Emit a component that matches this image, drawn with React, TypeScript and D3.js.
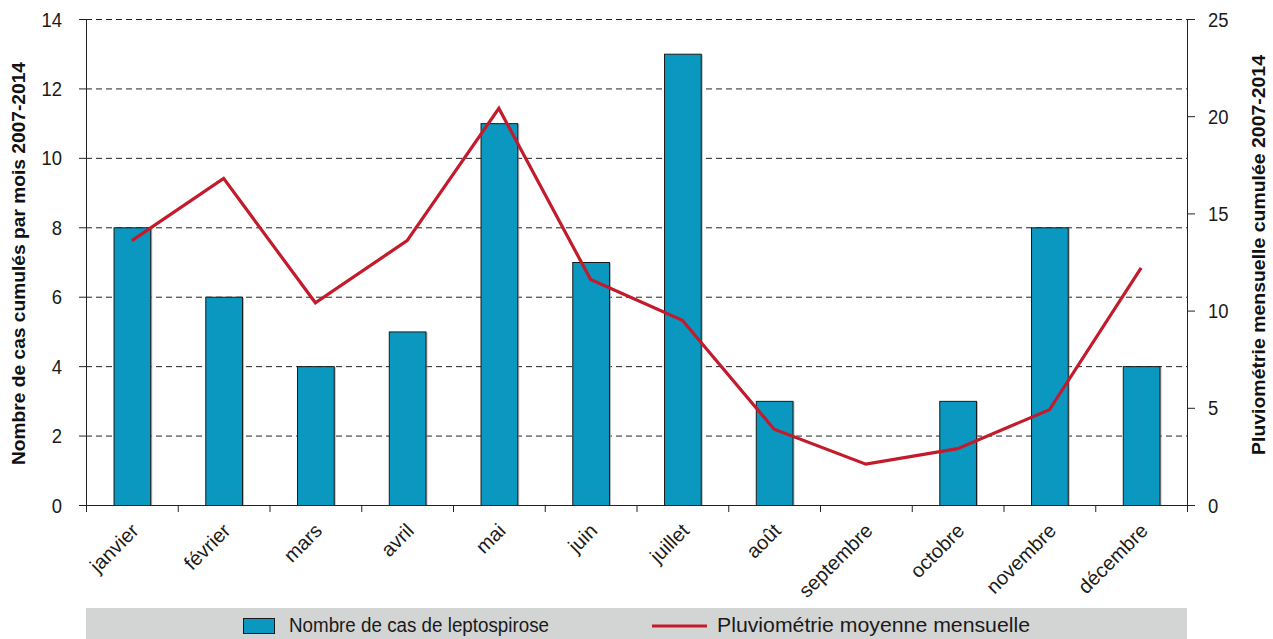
import React, { useEffect, useRef } from 'react';
import * as d3 from 'd3';

const months = ['janvier', 'février', 'mars', 'avril', 'mai', 'juin', 'juillet', 'août', 'septembre', 'octobre', 'novembre', 'décembre'];
const cases = [8, 6, 4, 5, 11, 7, 13, 3, 0, 3, 8, 4];
const rainfall = [13.6, 16.8, 10.4, 13.6, 20.4, 11.6, 9.5, 3.9, 2.1, 2.9, 4.9, 12.2];
const leftTicks = [0, 2, 4, 6, 8, 10, 12, 14];
const rightTicks = [0, 5, 10, 15, 20, 25];

const FONT = '"Liberation Sans", Arial, sans-serif';
const BAR = '#0b98c0';
const LINE = '#c31a2c';
const SX = 0.9; // slightly condensed digits

export default function App() {
  const svgRef = useRef<SVGSVGElement>(null);

  useEffect(() => {
    if (!svgRef.current) return;
    const H = 639;
    const left = 86, right = 1187, top = 19, bottom = 505;

    const svg = d3.select(svgRef.current);
    svg.selectAll('*').remove();
    svg.style('font-family', FONT);

    const x = d3.scaleBand().domain(months).range([left, right]).paddingInner(0.6).paddingOuter(0.3);
    const band = d3.scaleBand().domain(months).range([left, right]);
    const y = d3.scaleLinear().domain([0, 14]).range([bottom, top]);
    const y2 = d3.scaleLinear().domain([0, 25]).range([bottom, top]);

    // grid
    svg.append('g').selectAll('line').data(leftTicks.slice(1)).join('line')
      .attr('x1', left).attr('x2', right)
      .attr('y1', d => y(d) + 0.5).attr('y2', d => y(d) + 0.5)
      .attr('stroke', '#222').attr('stroke-width', 1).attr('stroke-dasharray', '6,4');

    // bars (light shadow, then bar)
    svg.append('g').selectAll('rect').data(cases).join('rect')
      .attr('x', (d, i) => x(months[i])! + 2)
      .attr('y', d => y(d) + 1)
      .attr('width', x.bandwidth())
      .attr('height', d => d > 0 ? bottom - y(d) - 1 : 0)
      .attr('fill', '#999').attr('opacity', 0.7);
    svg.append('g').selectAll('rect').data(cases).join('rect')
      .attr('x', (d, i) => x(months[i])! + 0.5)
      .attr('y', d => y(d) + 0.5)
      .attr('width', x.bandwidth())
      .attr('height', d => d > 0 ? bottom - y(d) : 0)
      .attr('fill', BAR).attr('stroke', '#1a1a1a').attr('stroke-width', 1)
      .attr('display', d => d > 0 ? null : 'none');

    // line
    const line = d3.line<number>()
      .x((d, i) => band(months[i])! + band.bandwidth() / 2)
      .y(d => y2(d));
    svg.append('path').datum(rainfall)
      .attr('d', line).attr('fill', 'none')
      .attr('stroke', LINE).attr('stroke-width', 3.2).attr('stroke-linejoin', 'miter');

    // left axis
    const ga = svg.append('g').attr('stroke', '#222');
    ga.append('line').attr('x1', left + 0.5).attr('x2', left + 0.5).attr('y1', top).attr('y2', bottom + 6);
    ga.selectAll('line.t').data(leftTicks).join('line').attr('class', 't')
      .attr('x1', left - 7).attr('x2', left)
      .attr('y1', d => y(d) + 0.5).attr('y2', d => y(d) + 0.5);
    svg.append('g').selectAll('g').data(leftTicks).join('g')
      .attr('transform', d => `translate(62,${y(d) + 7.5}) scale(${SX},1)`)
      .append('text')
      .attr('text-anchor', 'end').attr('font-size', 20.5).attr('fill', '#1a1a1a')
      .text(d => d);

    // right axis
    const gr = svg.append('g').attr('stroke', '#222');
    gr.append('line').attr('x1', right + 0.5).attr('x2', right + 0.5).attr('y1', top).attr('y2', bottom + 6);
    gr.selectAll('line.t').data(rightTicks).join('line').attr('class', 't')
      .attr('x1', right).attr('x2', right + 8)
      .attr('y1', d => y2(d) + 0.5).attr('y2', d => y2(d) + 0.5);
    svg.append('g').selectAll('g').data(rightTicks).join('g')
      .attr('transform', d => `translate(1208,${y2(d) + 7.5}) scale(${SX},1)`)
      .append('text')
      .attr('text-anchor', 'start').attr('font-size', 20.5).attr('fill', '#1a1a1a')
      .text(d => d);

    // bottom axis
    const gb = svg.append('g').attr('stroke', '#222');
    gb.append('line').attr('x1', left - 7).attr('x2', right).attr('y1', bottom + 0.5).attr('y2', bottom + 0.5);
    const edges = months.map(m => band(m)!).concat([right]);
    gb.selectAll('line.t').data(edges).join('line').attr('class', 't')
      .attr('x1', d => d + 0.5).attr('x2', d => d + 0.5)
      .attr('y1', bottom).attr('y2', bottom + 7);
    svg.append('g').selectAll('text').data(months).join('text')
      .attr('transform', d => `translate(${band(d)! + band.bandwidth() / 2 + 8},${bottom + 27}) rotate(-45)`)
      .attr('text-anchor', 'end')
      .attr('font-size', 20).attr('fill', '#1a1a1a')
      .text(d => d);

    // axis titles
    svg.append('text')
      .attr('transform', `translate(25,263.5) rotate(-90)`)
      .attr('text-anchor', 'middle').attr('font-size', 19).attr('font-weight', 'bold').attr('fill', '#111')
      .attr('textLength', 403).attr('lengthAdjust', 'spacingAndGlyphs')
      .text('Nombre de cas cumulés par mois 2007-2014');
    svg.append('text')
      .attr('transform', `translate(1265,255) rotate(-90)`)
      .attr('text-anchor', 'middle').attr('font-size', 19).attr('font-weight', 'bold').attr('fill', '#111')
      .attr('textLength', 400).attr('lengthAdjust', 'spacingAndGlyphs')
      .text('Pluviométrie mensuelle cumulée 2007-2014');

    // legend
    const lg = svg.append('g');
    lg.append('rect').attr('x', left).attr('y', 608).attr('width', right - left).attr('height', H - 608).attr('fill', '#d3d4d4');
    lg.append('rect').attr('x', 243.5).attr('y', 618.5).attr('width', 31).attr('height', 15)
      .attr('fill', BAR).attr('stroke', '#1a1a1a');
    lg.append('text').attr('x', 289).attr('y', 632)
      .attr('font-size', 19.5).attr('fill', '#1a1a1a')
      .attr('textLength', 260).attr('lengthAdjust', 'spacingAndGlyphs')
      .text('Nombre de cas de leptospirose');
    lg.append('line').attr('x1', 652).attr('x2', 707).attr('y1', 626).attr('y2', 626)
      .attr('stroke', LINE).attr('stroke-width', 3.2);
    lg.append('text').attr('x', 717).attr('y', 632)
      .attr('font-size', 19.5).attr('fill', '#1a1a1a')
      .attr('textLength', 313).attr('lengthAdjust', 'spacingAndGlyphs')
      .text('Pluviométrie moyenne mensuelle');
  }, []);

  return (
    <div style={{ position: 'absolute', left: 0, top: 0 }}>
      <svg ref={svgRef} width={1273} height={639} style={{ display: 'block', background: '#fff' }} />
    </div>
  );
}
